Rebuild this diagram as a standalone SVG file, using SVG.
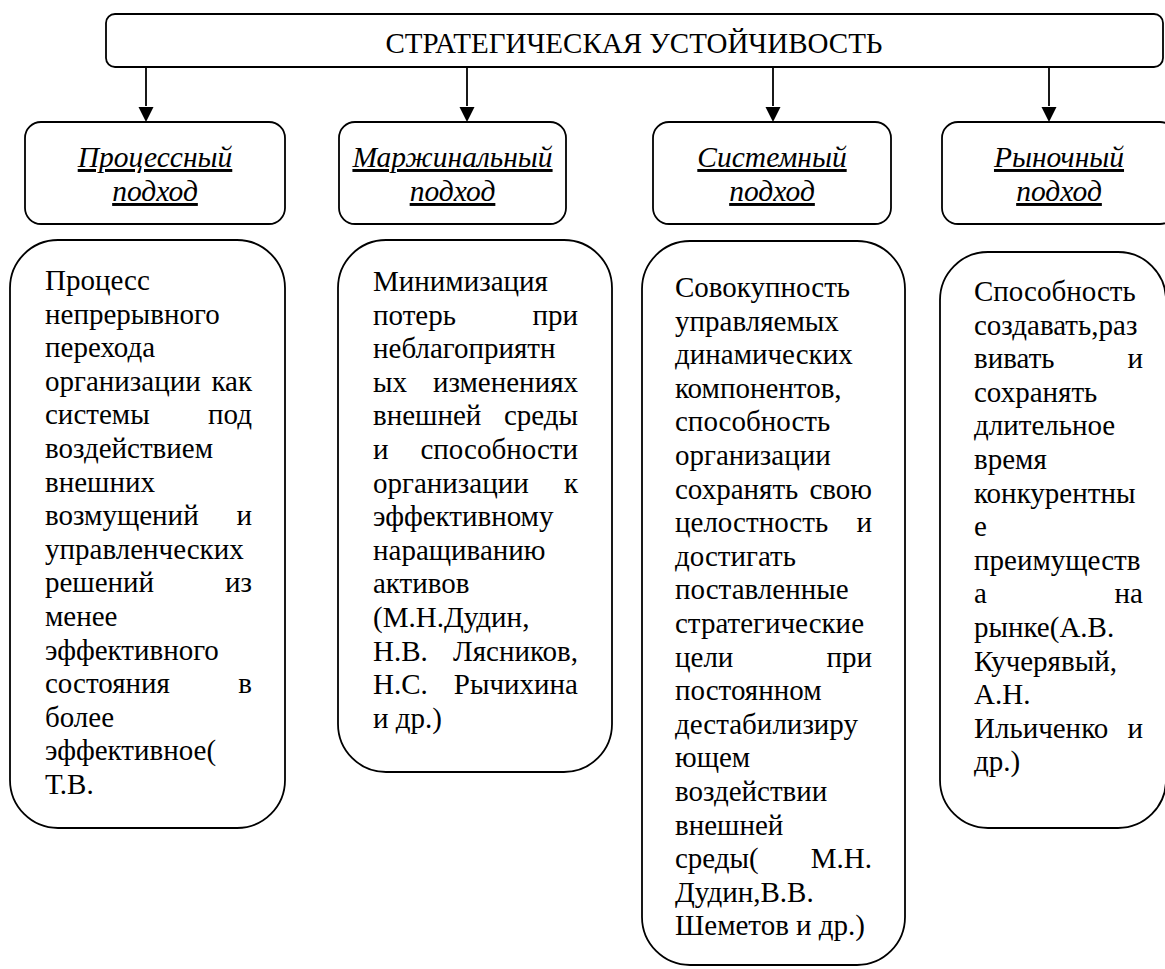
<svg xmlns="http://www.w3.org/2000/svg" width="1165" height="969" viewBox="0 0 1165 969">
<style>
.box{fill:#fff;stroke:#000;stroke-width:1.8}
.t{font-family:"Liberation Serif","Times New Roman",serif;font-size:29px;fill:#000}
.h{font-family:"Liberation Serif","Times New Roman",serif;font-size:29.5px;font-style:italic;text-decoration:underline;fill:#000;text-anchor:middle}
.e{text-anchor:end}
.c{stroke:#000;stroke-width:1.8;fill:none}
</style>
<rect width="1165" height="969" fill="#fff"/>

<g id="connectors">
<path class="c" d="M146,67 V106" />
<path d="M138.5,107 L153.5,107 L146,122 Z" fill="#000"/>
<path class="c" d="M467,67 V106" />
<path d="M459.5,107 L474.5,107 L467,122 Z" fill="#000"/>
<path class="c" d="M773,67 V106" />
<path d="M765.5,107 L780.5,107 L773,122 Z" fill="#000"/>
<path class="c" d="M1049,67 V106" />
<path d="M1041.5,107 L1056.5,107 L1049,122 Z" fill="#000"/>
</g>

<g id="root">
<rect class="box" x="106" y="14" width="1057" height="53" rx="9"/>
<text class="t" x="634" y="53" text-anchor="middle">СТРАТЕГИЧЕСКАЯ УСТОЙЧИВОСТЬ</text>
</g>

<g id="h1">
<rect class="box" x="25" y="122" width="260" height="102" rx="16"/>
<text class="h" x="155" y="167">Процессный</text>
<text class="h" x="155" y="201">подход</text>
</g>
<g id="h2">
<rect class="box" x="339" y="122" width="227" height="102" rx="16"/>
<text class="h" x="452.5" y="167">Маржинальный</text>
<text class="h" x="452.5" y="201">подход</text>
</g>
<g id="h3">
<rect class="box" x="653" y="122" width="238" height="102" rx="16"/>
<text class="h" x="772" y="167">Системный</text>
<text class="h" x="772" y="201">подход</text>
</g>
<g id="h4">
<rect class="box" x="942" y="122" width="234" height="102" rx="16"/>
<text class="h" x="1059" y="167">Рыночный</text>
<text class="h" x="1059" y="201">подход</text>
</g>

<g id="b1">
<rect class="box" x="10" y="240" width="275" height="588" rx="48"/>
<text class="t" x="45" y="290">Процесс</text>
<text class="t" x="45" y="323.6">непрерывного</text>
<text class="t" x="45" y="357.2">перехода</text>
<text class="t" x="45" y="390.8">организации</text><text class="t e" x="252" y="390.8">как</text>
<text class="t" x="45" y="424.4">системы</text><text class="t e" x="252" y="424.4">под</text>
<text class="t" x="45" y="458">воздействием</text>
<text class="t" x="45" y="491.6">внешних</text>
<text class="t" x="45" y="525.2">возмущений</text><text class="t e" x="252" y="525.2">и</text>
<text class="t" x="45" y="558.8">управленческих</text>
<text class="t" x="45" y="592.4">решений</text><text class="t e" x="252" y="592.4">из</text>
<text class="t" x="45" y="626">менее</text>
<text class="t" x="45" y="659.6">эффективного</text>
<text class="t" x="45" y="693.2">состояния</text><text class="t e" x="252" y="693.2">в</text>
<text class="t" x="45" y="726.8">более</text>
<text class="t" x="45" y="760.4">эффективное(</text>
<text class="t" x="45" y="794">Т.В.</text>
</g>

<g id="b2">
<rect class="box" x="338" y="240" width="274" height="532" rx="48"/>
<text class="t" x="373" y="291">Минимизация</text>
<text class="t" x="373" y="324.6">потерь</text><text class="t e" x="578" y="324.6">при</text>
<text class="t" x="373" y="358.2">неблагоприятн</text>
<text class="t" x="373" y="391.8">ых</text><text class="t e" x="578" y="391.8">изменениях</text>
<text class="t" x="373" y="425.4">внешней</text><text class="t e" x="578" y="425.4">среды</text>
<text class="t" x="373" y="459">и</text><text class="t e" x="578" y="459">способности</text>
<text class="t" x="373" y="492.6">организации</text><text class="t e" x="578" y="492.6">к</text>
<text class="t" x="373" y="526.2">эффективному</text>
<text class="t" x="373" y="559.8">наращиванию</text>
<text class="t" x="373" y="593.4">активов</text>
<text class="t" x="373" y="627">(М.Н.Дудин,</text>
<text class="t" x="373" y="660.6">Н.В.</text><text class="t e" x="578" y="660.6">Лясников,</text>
<text class="t" x="373" y="694.2">Н.С.</text><text class="t e" x="578" y="694.2">Рычихина</text>
<text class="t" x="373" y="727.8">и др.)</text>
</g>

<g id="b3">
<rect class="box" x="642" y="241" width="263" height="724" rx="48"/>
<text class="t" x="675" y="297">Совокупность</text>
<text class="t" x="675" y="330.6">управляемых</text>
<text class="t" x="675" y="364.2">динамических</text>
<text class="t" x="675" y="397.8">компонентов,</text>
<text class="t" x="675" y="431.4">способность</text>
<text class="t" x="675" y="465">организации</text>
<text class="t" x="675" y="498.6">сохранять</text><text class="t e" x="872" y="498.6">свою</text>
<text class="t" x="675" y="532.2">целостность</text><text class="t e" x="872" y="532.2">и</text>
<text class="t" x="675" y="565.8">достигать</text>
<text class="t" x="675" y="599.4">поставленные</text>
<text class="t" x="675" y="633">стратегические</text>
<text class="t" x="675" y="666.6">цели</text><text class="t e" x="872" y="666.6">при</text>
<text class="t" x="675" y="700.2">постоянном</text>
<text class="t" x="675" y="733.8">дестабилизиру</text>
<text class="t" x="675" y="767.4">ющем</text>
<text class="t" x="675" y="801">воздействии</text>
<text class="t" x="675" y="834.6">внешней</text>
<text class="t" x="675" y="868.2">среды(</text><text class="t e" x="872" y="868.2">М.Н.</text>
<text class="t" x="675" y="901.8">Дудин,В.В.</text>
<text class="t" x="675" y="935.4">Шеметов и др.)</text>
</g>

<g id="b4">
<rect class="box" x="940" y="252" width="226" height="576" rx="48"/>
<text class="t" x="974" y="301">Способность</text>
<text class="t" x="974" y="334.6">создавать,раз</text>
<text class="t" x="974" y="368.2">вивать</text><text class="t e" x="1143" y="368.2">и</text>
<text class="t" x="974" y="401.8">сохранять</text>
<text class="t" x="974" y="435.4">длительное</text>
<text class="t" x="974" y="469">время</text>
<text class="t" x="974" y="502.6">конкурентны</text>
<text class="t" x="974" y="536.2">е</text>
<text class="t" x="974" y="569.8">преимуществ</text>
<text class="t" x="974" y="603.4">а</text><text class="t e" x="1143" y="603.4">на</text>
<text class="t" x="974" y="637">рынке(А.В.</text>
<text class="t" x="974" y="670.6">Кучерявый,</text>
<text class="t" x="974" y="704.2">А.Н.</text>
<text class="t" x="974" y="737.8">Ильиченко</text><text class="t e" x="1143" y="737.8">и</text>
<text class="t" x="974" y="771.4">др.)</text>
</g>
</svg>
